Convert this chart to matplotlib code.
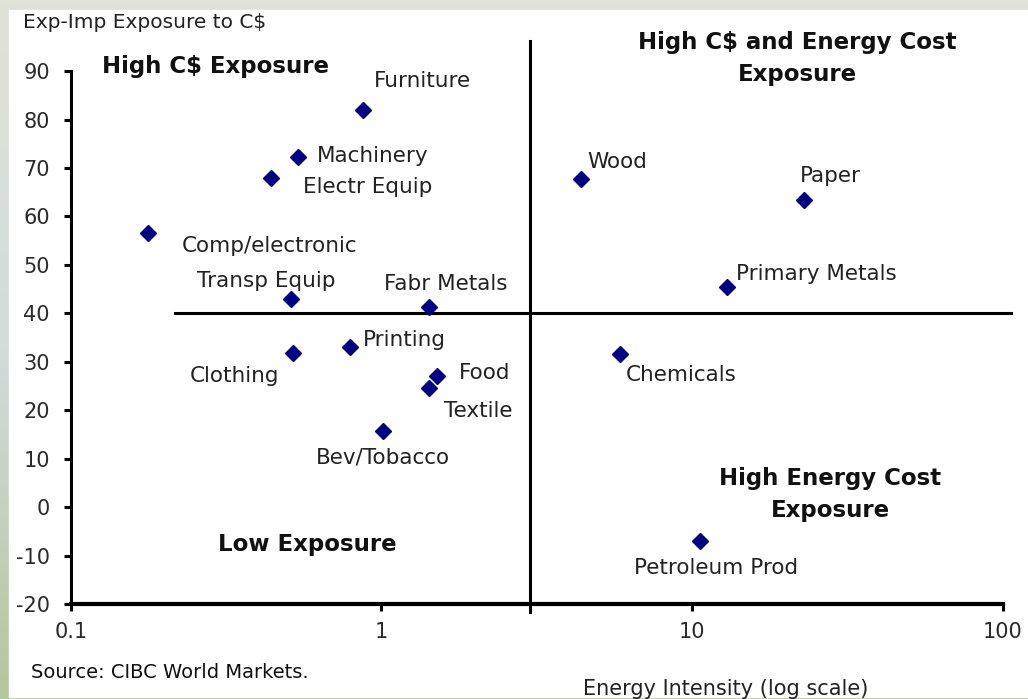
import matplotlib
matplotlib.use("Agg")
import matplotlib.pyplot as plt
import numpy as np
from matplotlib.patches import Rectangle
from matplotlib.colors import LinearSegmentedColormap

plt.rcParams["axes.unicode_minus"] = False

# sector data
sectors = ["Furniture", "Machinery", "Electr Equip", "Comp/electronic", "Transp Equip",
           "Fabr Metals", "Clothing", "Printing", "Food", "Textile", "Bev/Tobacco",
           "Wood", "Paper", "Primary Metals", "Chemicals", "Petroleum Prod"]
energy_intensity = [0.87, 0.54, 0.44, 0.177, 0.51, 1.42, 0.52, 0.79, 1.51, 1.42, 1.01,
                    4.4, 22.9, 13.0, 5.86, 10.6]
cad_exposure = [82.0, 72.3, 67.9, 56.5, 43.0, 41.4, 31.9, 33.1, 27.1, 24.6, 15.8,
                67.7, 63.4, 45.5, 31.6, -6.9]

# quadrant dividers
divider_x = 3.0
divider_y = 40.0
hline_start = 0.217

x_ticks = [0.1, 1, 10, 100]
x_ticklabels = ["0.1", "1", "10", "100"]
y_ticks = [-20, -10, 0, 10, 20, 30, 40, 50, 60, 70, 80, 90]

# label offsets in pixels (dx, dy, ha)
offsets = {
    "Furniture": (11, 29, "left"),
    "Machinery": (19, 1, "left"),
    "Electr Equip": (32, -9, "left"),
    "Comp/electronic": (34, -13, "left"),
    "Transp Equip": (-24, 18, "center"),
    "Fabr Metals": (17, 23, "center"),
    "Clothing": (-14, -23, "right"),
    "Printing": (13, 7, "left"),
    "Food": (22, 3, "left"),
    "Textile": (15, -23, "left"),
    "Bev/Tobacco": (0, -27, "center"),
    "Wood": (6, 17, "left"),
    "Paper": (-4, 24, "left"),
    "Primary Metals": (9, 13, "left"),
    "Chemicals": (6, -21, "left"),
    "Petroleum Prod": (-66, -27, "left"),
}

W, H = 1028, 699
fig = plt.figure(figsize=(W / 100, H / 100), dpi=100)

# textured-ish backdrop
bg = fig.add_axes([0, 0, 1, 1], zorder=-10)
cmap = LinearSegmentedColormap.from_list("bg", ["#dfe2d6", "#d3dbdc", "#b4c69c"])
bg.imshow(np.linspace(0, 1, 200).reshape(-1, 1), aspect="auto", cmap=cmap,
          extent=[0, 1, 0, 1], origin="upper")
bg.add_patch(Rectangle((9 / W, 2 / H), 1, (697 - 10) / H, color="white"))
bg.set_xlim(0, 1)
bg.set_ylim(0, 1)
bg.axis("off")


def px(x, y):
    return x / W, 1 - y / H


ax = fig.add_axes([70.7 / W, 94.7 / H, (1002.7 - 70.7) / W, (658 - 94.7) / H])
ax.patch.set_alpha(0)
ax.set_xscale("log")
ax.set_xlim(0.1, 100)
ax.set_ylim(-20, 96.2)

ax.plot(energy_intensity, cad_exposure, "D", color="#000080", ms=8, zorder=5)

ax.plot([divider_x, divider_x], [-21.6, 96.2], color="black", lw=2.2, clip_on=False)
ax.plot([hline_start, 106], [divider_y, divider_y], color="black", lw=2.2, clip_on=False)

for name, xv, yv in zip(sectors, energy_intensity, cad_exposure):
    dx, dy, ha = offsets[name]
    ax.annotate(name, (xv, yv), xytext=(dx * 0.72, dy * 0.72), textcoords="offset points",
                ha=ha, va="center", fontsize=15.5, color="#222222")

for s in ["top", "right"]:
    ax.spines[s].set_visible(False)
ax.spines["left"].set_bounds(-20, 90)
ax.spines["left"].set_linewidth(2.2)
ax.spines["bottom"].set_linewidth(3)

ax.set_xticks(x_ticks)
ax.set_xticklabels(x_ticklabels)
ax.xaxis.set_minor_locator(matplotlib.ticker.NullLocator())
ax.set_yticks(y_ticks)
ax.tick_params(axis="both", direction="out", length=5, width=2.2, labelsize=15,
               labelcolor="#2a2a2a")
ax.tick_params(axis="y", pad=10)
ax.tick_params(axis="x", pad=8)

# quadrant captions
bold = dict(fontsize=16.5, fontweight="bold", color="#111111", ha="center", va="center",
            linespacing=1.55)
fig.text(*px(215.5, 67), "High C$ Exposure", **bold)
fig.text(*px(797.5, 58.5), "High C$ and Energy Cost\nExposure", **bold)
fig.text(*px(307, 544), "Low Exposure", **bold)
fig.text(*px(830, 494.5), "High Energy Cost\nExposure", **bold)

fig.text(*px(23, 22), "Exp-Imp Exposure to C$", fontsize=14.5, color="#222222", va="center")
fig.text(*px(31, 672), "Source: CIBC World Markets.", fontsize=14, color="#111111",
         va="center")
fig.text(*px(726, 689), "Energy Intensity (log scale)", fontsize=15, color="#222222",
         ha="center", va="center")

fig.savefig("out.png", dpi=100)
